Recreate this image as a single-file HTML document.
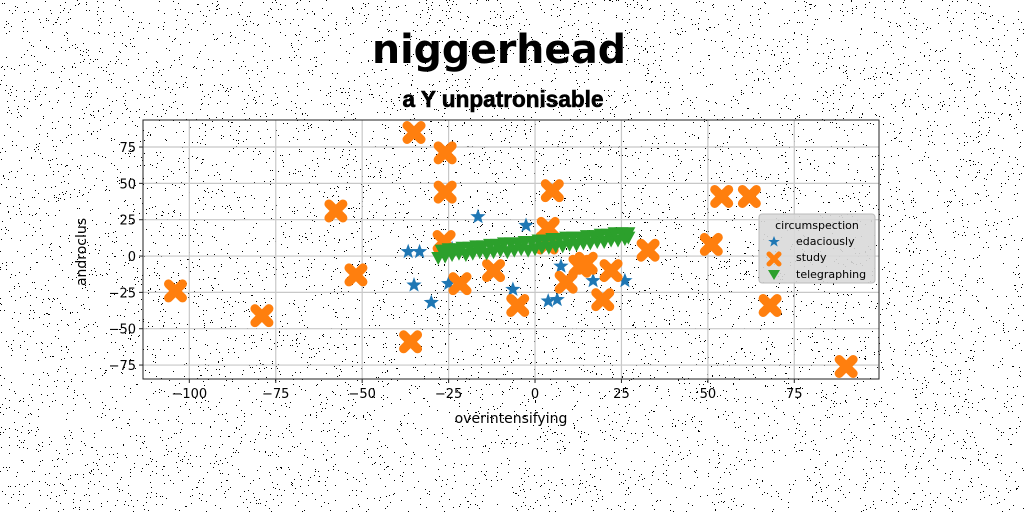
<!DOCTYPE html>
<html><head><meta charset="utf-8">
<style>
html,body{margin:0;padding:0;background:#fff;}
svg{display:block;font-family:"DejaVu Sans","Liberation Sans",sans-serif;}
</style></head>
<body>
<svg id="chart" width="1024" height="512" viewBox="0 0 1024 512">
  <g id="noise"></g>
  <text x="499" y="63" text-anchor="middle" font-size="40" font-weight="bold" textLength="254" lengthAdjust="spacingAndGlyphs">niggerhead</text>
  <text x="503" y="107" text-anchor="middle" font-size="23" font-weight="bold" font-family="'Liberation Sans Narrow','Liberation Sans',sans-serif" textLength="201" lengthAdjust="spacingAndGlyphs" stroke="#000" stroke-width="0.6">a Y unpatronisable</text>
  <g id="grid"></g>
  <g id="xticks"></g>
  <g id="yticks"></g>
  <g id="marks"></g>
  <rect x="143" y="120" width="736" height="259" fill="none" stroke="#222" stroke-width="1"/>
  <text x="511" y="423" text-anchor="middle" font-size="14">overintensifying</text>
  <text transform="translate(86,252) rotate(-90)" text-anchor="middle" font-size="14">androclus</text>
  <g>
    <rect x="759" y="214" width="116" height="69" rx="3" fill="#d9d9d9" fill-opacity="0.9" stroke="#bbb"/>
    <text x="817" y="229" text-anchor="middle" font-size="11">circumspection</text>
    <polygon points="774,236 775.6,240 779.8,240 776.4,242.5 777.7,246.6 774,244 770.3,246.6 771.6,242.5 768.2,240 772.4,240" fill="#1f77b4"/>
    <text x="796" y="245" font-size="11">edaciously</text>
    <path d="M769,254 L779,264 M779,254 L769,264" stroke="#ff7f0e" stroke-width="5" stroke-linecap="round"/>
    <text x="796" y="261" font-size="11">study</text>
    <polygon points="768,270 780,270 774,280" fill="#2ca02c"/>
    <text x="796" y="278" font-size="11">telegraphing</text>
  </g>
</svg>
<script>
const xTicks=[-100,-75,-50,-25,0,25,50,75];
const yTicks=[-75,-50,-25,0,25,50,75];
const edaciouslyX=[-36.7,-33.4,-35,-30,-16.5,-2.6,-25,-6.4,3.8,6.4,7.5,16.8,26,-24];
const edaciouslyY=[3,3,-20,-32,27,21,-19,-23,-31,-30,-7,-17,-17,5];
const studyX=[-35,-26,-26,-57.6,-104,-79,-51.8,-36,-26.3,-21.7,-12,-5,5,3.8,3.5,9,13,14.8,22,19.6,32.7,51,54,62,68,90];
const studyY=[85,71,44,31,-24,-41,-13,-59,10,-19,-10,-34,45,19,9,-18,-7,-5,-10,-30,4,8,41,41,-34,-76];
const telegraphingX=[-28,-26,-24,-22,-20,-18,-16,-14,-12,-10,-8,-6,-4,-2,0,2,4,6,8,10,12,14,16,18,20,22,24,26,27,-27,-25,-23,-21,-19,-17,-15,-13,-11,-9,-7,-5,-3,-1,1,3,5,7,9,11,13,15,17,19,21,23,25,27];
const telegraphingY=[-2,-1,0,1,0,1,2,1,2,3,2,3,4,3,4,5,5,6,6,7,7,8,8,9,9,10,10,11,12,3,4,4,5,5,6,6,7,7,8,8,8,9,9,10,10,11,11,12,12,12,13,13,14,14,15,15,15];
const NS='http://www.w3.org/2000/svg';
const X0=143,X1=879,Y0=120,Y1=379,xmin=-113.4,xmax=99.5,ymin=-84.6,ymax=93.6;
function sx(v){return X0+(v-xmin)/(xmax-xmin)*(X1-X0);}
function sy(v){return Y1-(v-ymin)/(ymax-ymin)*(Y1-Y0);}
function mk(tag,attrs,parent){const e=document.createElementNS(NS,tag);for(const k in attrs)e.setAttribute(k,attrs[k]);parent.appendChild(e);return e;}
const noise=document.getElementById('noise');let seed=7;function rnd(){seed=(seed*16807)%2147483647;return seed/2147483647;}
let d='';for(let i=0;i<9000;i++){const x=Math.floor(rnd()*1024),y=Math.floor(rnd()*512);d+='M'+x+' '+y+'h1v1h-1z';}
mk('path',{d:d,fill:'#000'},noise);
const grid=document.getElementById('grid'),xg=document.getElementById('xticks'),yg=document.getElementById('yticks');
xTicks.forEach(t=>{const x=sx(t);
 const l=mk('line',{x1:x,x2:x,y1:Y0,y2:Y1,stroke:'#c8c8c8','stroke-width':1.2},grid);
 
 
 mk('line',{x1:x,x2:x,y1:Y1,y2:Y1+4,stroke:'#222'},xg);
 const tx=mk('text',{x:x,y:Y1+19,'text-anchor':'middle','font-size':13},xg);tx.textContent=t<0?'\u2212'+(-t):t;
 
 });
yTicks.forEach(t=>{const y=sy(t);
 const l=mk('line',{x1:X0,x2:X1,y1:y,y2:y,stroke:'#c8c8c8','stroke-width':1.2},grid);
 
 
 mk('line',{x1:X0-4,x2:X0,y1:y,y2:y,stroke:'#222'},yg);
 const tx=mk('text',{x:X0-7,y:y+5,'text-anchor':'end','font-size':13},yg);tx.textContent=t<0?'\u2212'+(-t):t;
 
 });
const marks=document.getElementById('marks');
function star(cx,cy,r){let p=[];for(let i=0;i<10;i++){const a=-Math.PI/2+i*Math.PI/5,rr=i%2?r*0.42:r;p.push((cx+rr*Math.cos(a)).toFixed(1)+','+(cy+rr*Math.sin(a)).toFixed(1));}return p.join(' ');}
edaciouslyX.forEach((v,i)=>{const p=mk('polygon',{points:star(sx(v),sy(edaciouslyY[i]),8),fill:'#1f77b4'},marks);
 
 });
studyX.forEach((v,i)=>{const x=sx(v),y=sy(studyY[i]),r=7;
 const p=mk('path',{d:`M${x-r},${y-r}L${x+r},${y+r}M${x+r},${y-r}L${x-r},${y+r}`,stroke:'#ff7f0e','stroke-width':9,'stroke-linecap':'round'},marks);
 
 });
telegraphingX.forEach((v,i)=>{const x=sx(v),y=sy(telegraphingY[i]);
 const p=mk('polygon',{points:`${x-7},${y-7} ${x+7},${y-7} ${x},${y+6}`,fill:'#2ca02c'},marks);
 
 });
</script>
</body></html>
